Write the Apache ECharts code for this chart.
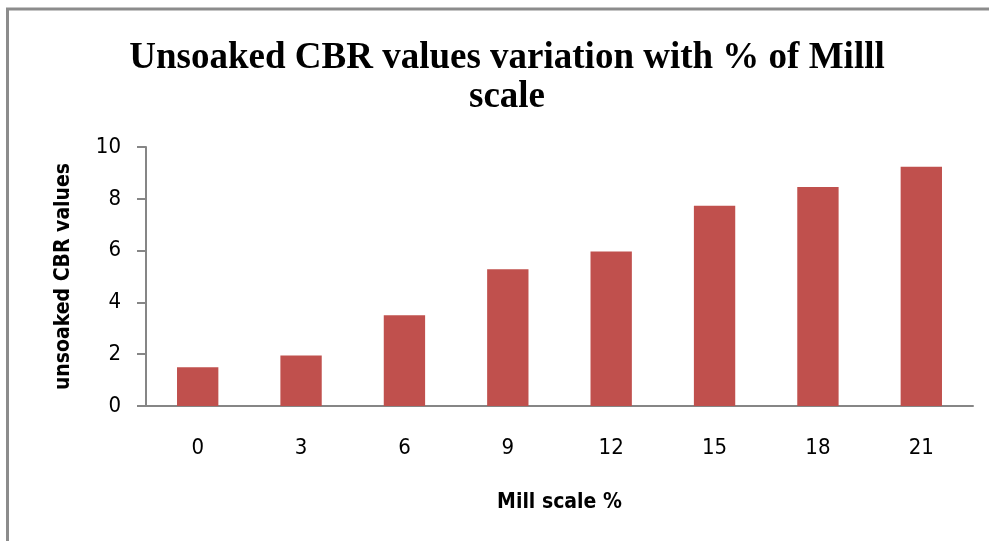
<!DOCTYPE html>
<html>
<head>
<meta charset="utf-8">
<script src="https://cdn.jsdelivr.net/npm/echarts@6/dist/echarts.min.js"></script>
<style>
  html, body { margin: 0; padding: 0; background: #fff; }
  #main { width: 989px; height: 541px; }
</style>
</head>
<body>
<div id="main"></div>
<script>
  // mill scale % on the x axis
  const millScale = ['0', '3', '6', '9', '12', '15', '18', '21']
  // unsoaked CBR values
  const cbrValues = [1.5, 1.95, 3.5, 5.28, 5.97, 7.73, 8.46, 9.24]
  const yTicks = [0, 2, 4, 6, 8, 10]

  const narrow = '"DejaVu Sans Condensed", "Liberation Sans Narrow", "Liberation Sans", Arial, sans-serif'

  let chart = echarts.init(document.getElementById('main'))
  let option = {
    animation: false,
    title: {
      text: 'Unsoaked CBR values variation with % of Milll\nscale',
      left: 502,
      textAlign: 'center',
      top: 34,
      textStyle: {
        fontFamily: '"Liberation Serif", "Times New Roman", serif',
        fontWeight: 'bold',
        fontSize: 37,
        lineHeight: 39,
        color: '#000'
      }
    },
    graphic: [
      {
        type: 'polyline',
        silent: true,
        shape: { points: [[7.5, 541], [7.5, 9], [989, 9]] },
        style: { stroke: '#8c8c8c', lineWidth: 3, fill: null }
      }
    ],
    grid: {
      left: 146,
      right: 16,
      top: 147,
      bottom: 135
    },
    xAxis: {
      type: 'category',
      data: millScale,
      name: 'Mill scale %',
      nameLocation: 'middle',
      nameGap: 86,
      nameTextStyle: {
        fontFamily: narrow,
        fontWeight: 'bold',
        fontSize: 21,
        color: '#000'
      },
      axisLine: { lineStyle: { color: '#868686', width: 2 } },
      axisTick: { show: false },
      axisLabel: {
        margin: 31,
        fontFamily: narrow,
        fontSize: 22,
        color: '#000'
      }
    },
    yAxis: {
      type: 'value',
      min: yTicks[0],
      max: yTicks[yTicks.length - 1],
      interval: 2,
      name: 'unsoaked CBR values',
      nameLocation: 'middle',
      nameGap: 72,
      nameTextStyle: {
        fontFamily: narrow,
        fontWeight: 'bold',
        fontSize: 21,
        color: '#000'
      },
      axisLine: { show: true, lineStyle: { color: '#868686', width: 2 } },
      axisTick: { show: true, length: 9, lineStyle: { color: '#868686', width: 2 } },
      splitLine: { show: false },
      axisLabel: {
        margin: 25,
        fontFamily: narrow,
        fontSize: 22,
        color: '#000'
      }
    },
    series: [
      {
        type: 'bar',
        data: cbrValues,
        barWidth: '40%',
        itemStyle: { color: '#C0504D' }
      }
    ]
  }
  chart.setOption(option)
</script>
</body>
</html>
